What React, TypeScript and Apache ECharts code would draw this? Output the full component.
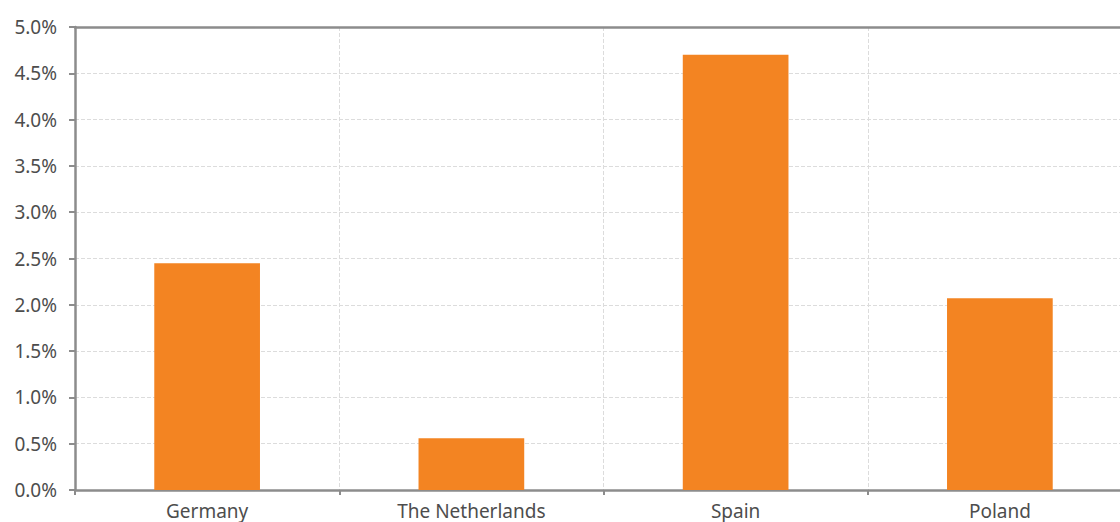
import React, { useEffect, useRef } from "react";
import * as echarts from "echarts";

const categories = ["Germany", "The Netherlands", "Spain", "Poland"];
const values = [2.45, 0.56, 4.7, 2.07];
const yTicks = { min: 0, max: 5, interval: 0.5 };

export default function App() {
  const ref = useRef<HTMLDivElement>(null);
  useEffect(() => {
    if (!ref.current) return;
    const chart = echarts.init(ref.current, null, { renderer: "svg" });
    const font = "Noto Sans";
    chart.setOption({
      animation: false,
      grid: { left: 75, top: 27, right: 8, bottom: 32, containLabel: false },
      xAxis: [
        {
          type: "category",
          data: categories,
          axisLine: { lineStyle: { color: "#8c8c8c", width: 2.5 } },
          axisTick: { show: true, length: 5, lineStyle: { color: "#8c8c8c", width: 2 } },
          axisLabel: { color: "#4d4d4d", fontFamily: font, fontSize: 19, margin: 11 },
          splitLine: { show: true, lineStyle: { color: "#dcdcdc", type: "dashed", width: 1 } },
        },
        {
          type: "category",
          position: "top",
          data: categories,
          axisLine: { lineStyle: { color: "#8c8c8c", width: 2.5 } },
          axisTick: { show: false },
          axisLabel: { show: false },
        },
      ],
      yAxis: {
        type: "value",
        min: yTicks.min,
        max: yTicks.max,
        interval: yTicks.interval,
        axisLine: { show: true, lineStyle: { color: "#8c8c8c", width: 2.5 } },
        axisTick: { show: true, length: 6, lineStyle: { color: "#8c8c8c", width: 2 } },
        axisLabel: {
          color: "#4d4d4d",
          fontFamily: font,
          fontSize: 19,
          margin: 18,
          formatter: (v: number) => v.toFixed(1) + "%",
        },
        splitLine: { show: true, lineStyle: { color: "#dcdcdc", type: "dashed", width: 1 } },
      },
      series: [
        {
          type: "bar",
          data: values,
          barWidth: "40%",
          itemStyle: { color: "#F38422" },
        },
      ],
    });
    return () => chart.dispose();
  }, []);
  return (
    <div style={{ width: 1120, height: 522, position: "absolute", left: 0, top: 0, overflow: "hidden" }}>
      <div ref={ref} style={{ width: 1140, height: 522 }} />
    </div>
  );
}
